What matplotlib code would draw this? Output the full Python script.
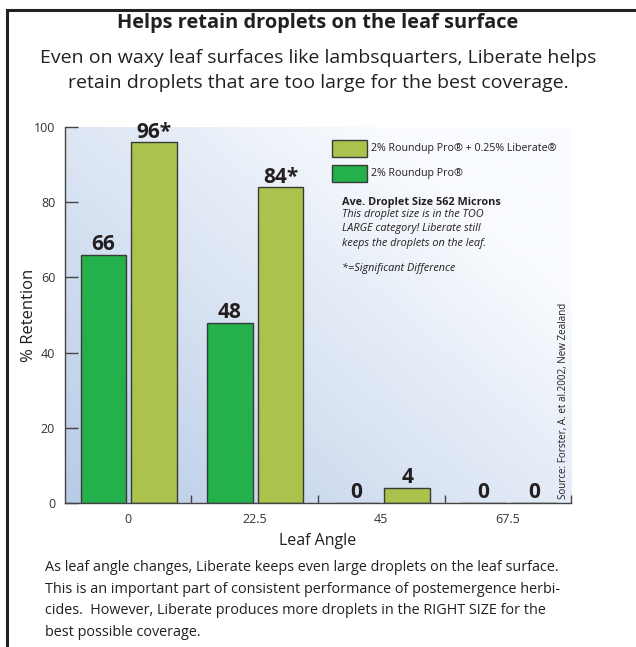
import numpy as np
import matplotlib
matplotlib.use("Agg")
import matplotlib.pyplot as plt
from matplotlib.colors import LinearSegmentedColormap
from matplotlib.patches import Rectangle
from matplotlib.lines import Line2D

plt.rcParams['font.family'] = ['Open Sans', 'DejaVu Sans']

angles = ['0', '22.5', '45', '67.5']
roundup = [66, 48, 0, 0]
liberate = [96, 84, 4, 0]
roundup_sig = ['', '', '', '']
liberate_sig = ['*', '*', '', '']

green = '#24b04b'
olive = '#abc24c'
edge = '#3a3a3a'
txt = '#231f20'

fig = plt.figure(figsize=(6.36, 6.47), dpi=100)
ax = fig.add_axes([0.102, 0.2226, 0.796, 0.5811])

# background gradient, darker toward the bottom-left
nx, ny = 200, 200
gx, gy = np.meshgrid(np.linspace(0, 1, nx), np.linspace(0, 1, ny))
grad = np.clip((1 - gx) * 0.65 + (1 - gy) * 0.55 - 0.25, 0, 1)
cmap = LinearSegmentedColormap.from_list('bg', ['#f9fbfe', '#b4c8e5'])
ax.imshow(grad, extent=[-0.5, 3.5, 0, 100], origin='lower', aspect='auto',
          cmap=cmap, vmin=0, vmax=1, zorder=0, interpolation='bilinear')

x = np.arange(len(angles))
w = 0.36
ax.bar(x - 0.195, roundup, w, color=green, edgecolor=edge, linewidth=1, zorder=2)
ax.bar(x + 0.205, liberate, w, color=olive, edgecolor=edge, linewidth=1, zorder=2)

for i in range(len(angles)):
    ax.text(x[i] - 0.195, roundup[i] + 1.2, f"{roundup[i]}{roundup_sig[i]}",
            ha='center', va='baseline', fontsize=15, fontweight='bold', color=txt, zorder=3)
    ax.text(x[i] + 0.205, liberate[i] + 1.2, f"{liberate[i]}{liberate_sig[i]}",
            ha='center', va='baseline', fontsize=15, fontweight='bold', color=txt, zorder=3)

ax.set_xlim(-0.5, 3.5)
ax.set_ylim(0, 100)
ax.set_xticks(x)
ax.set_xticklabels(angles, fontsize=9, color='#333333')
ax.set_xticks(np.arange(0.5, 4, 1), minor=True)
ax.tick_params(axis='x', which='major', length=0, pad=7)
ax.tick_params(axis='x', which='minor', direction='in', length=6, color='#444444', width=1)
ax.set_yticks(np.arange(0, 101, 20))
ax.tick_params(axis='y', direction='in', length=9, color='#444444', width=1,
               labelsize=9, labelcolor='#333333', pad=7)
for s in ['top', 'right']:
    ax.spines[s].set_visible(False)
for s in ['left', 'bottom']:
    ax.spines[s].set_color('#444444')
    ax.spines[s].set_linewidth(1)
ax.set_xlabel('Leaf Angle', fontsize=11.5, labelpad=5, color=txt)
ax.set_ylabel('% Retention', fontsize=12, labelpad=-2, color=txt)

# legend-like boxes and notes
ax.add_patch(Rectangle((1.61, 92.0), 0.28, 4.5, facecolor=olive,
                       edgecolor=edge, linewidth=1, zorder=3))
ax.add_patch(Rectangle((1.61, 85.4), 0.28, 4.5, facecolor=green,
                       edgecolor=edge, linewidth=1, zorder=3))
ax.text(1.92, 94.2, '2% Roundup Pro® + 0.25% Liberate®', fontsize=7.7, va='center', color=txt)
ax.text(1.92, 87.6, '2% Roundup Pro®', fontsize=7.7, va='center', color=txt)
ax.text(1.69, 80.0, 'Ave. Droplet Size 562 Microns', fontsize=7.8, fontweight='bold',
        va='center', color=txt)
notes = ['This droplet size is in the TOO', 'LARGE category! Liberate still',
         'keeps the droplets on the leaf.']
for j, line in enumerate(notes):
    ax.text(1.69, 76.8 - j * 3.85, line, fontsize=7.8, style='italic', va='center', color=txt)
ax.text(1.69, 62.4, '*=Significant Difference', fontsize=7.8, style='italic',
        va='center', color=txt)
ax.text(3.44, 1.0, 'Source: Forster, A. et al.2002, New Zealand', rotation=90,
        fontsize=7.1, ha='center', va='bottom', color=txt)

# titles
fig.text(0.5, 0.965, 'Helps retain droplets on the leaf surface', ha='center', va='center',
         fontsize=14.4, fontweight='bold', color=txt)
fig.text(0.5, 0.891, 'Even on waxy leaf surfaces like lambsquarters, Liberate helps\n'
         'retain droplets that are too large for the best coverage.',
         ha='center', va='center', fontsize=14, color=txt, linespacing=1.45)

fig.text(0.071, 0.0726, 'As leaf angle changes, Liberate keeps even large droplets on the leaf surface.\n'
         'This is an important part of consistent performance of postemergence herbi-\n'
         'cides.  However, Liberate produces more droplets in the RIGHT SIZE for the\n'
         'best possible coverage.', ha='left', va='center', fontsize=10.4, color=txt,
         linespacing=1.6)

# frame
fig.add_artist(Line2D([0.011, 1.0], [0.9845, 0.9845], color='#222222', linewidth=2.2))
fig.add_artist(Line2D([0.011, 0.011], [0.9845, 0.0], color='#222222', linewidth=2.2))

fig.savefig('out.png', dpi=100)
